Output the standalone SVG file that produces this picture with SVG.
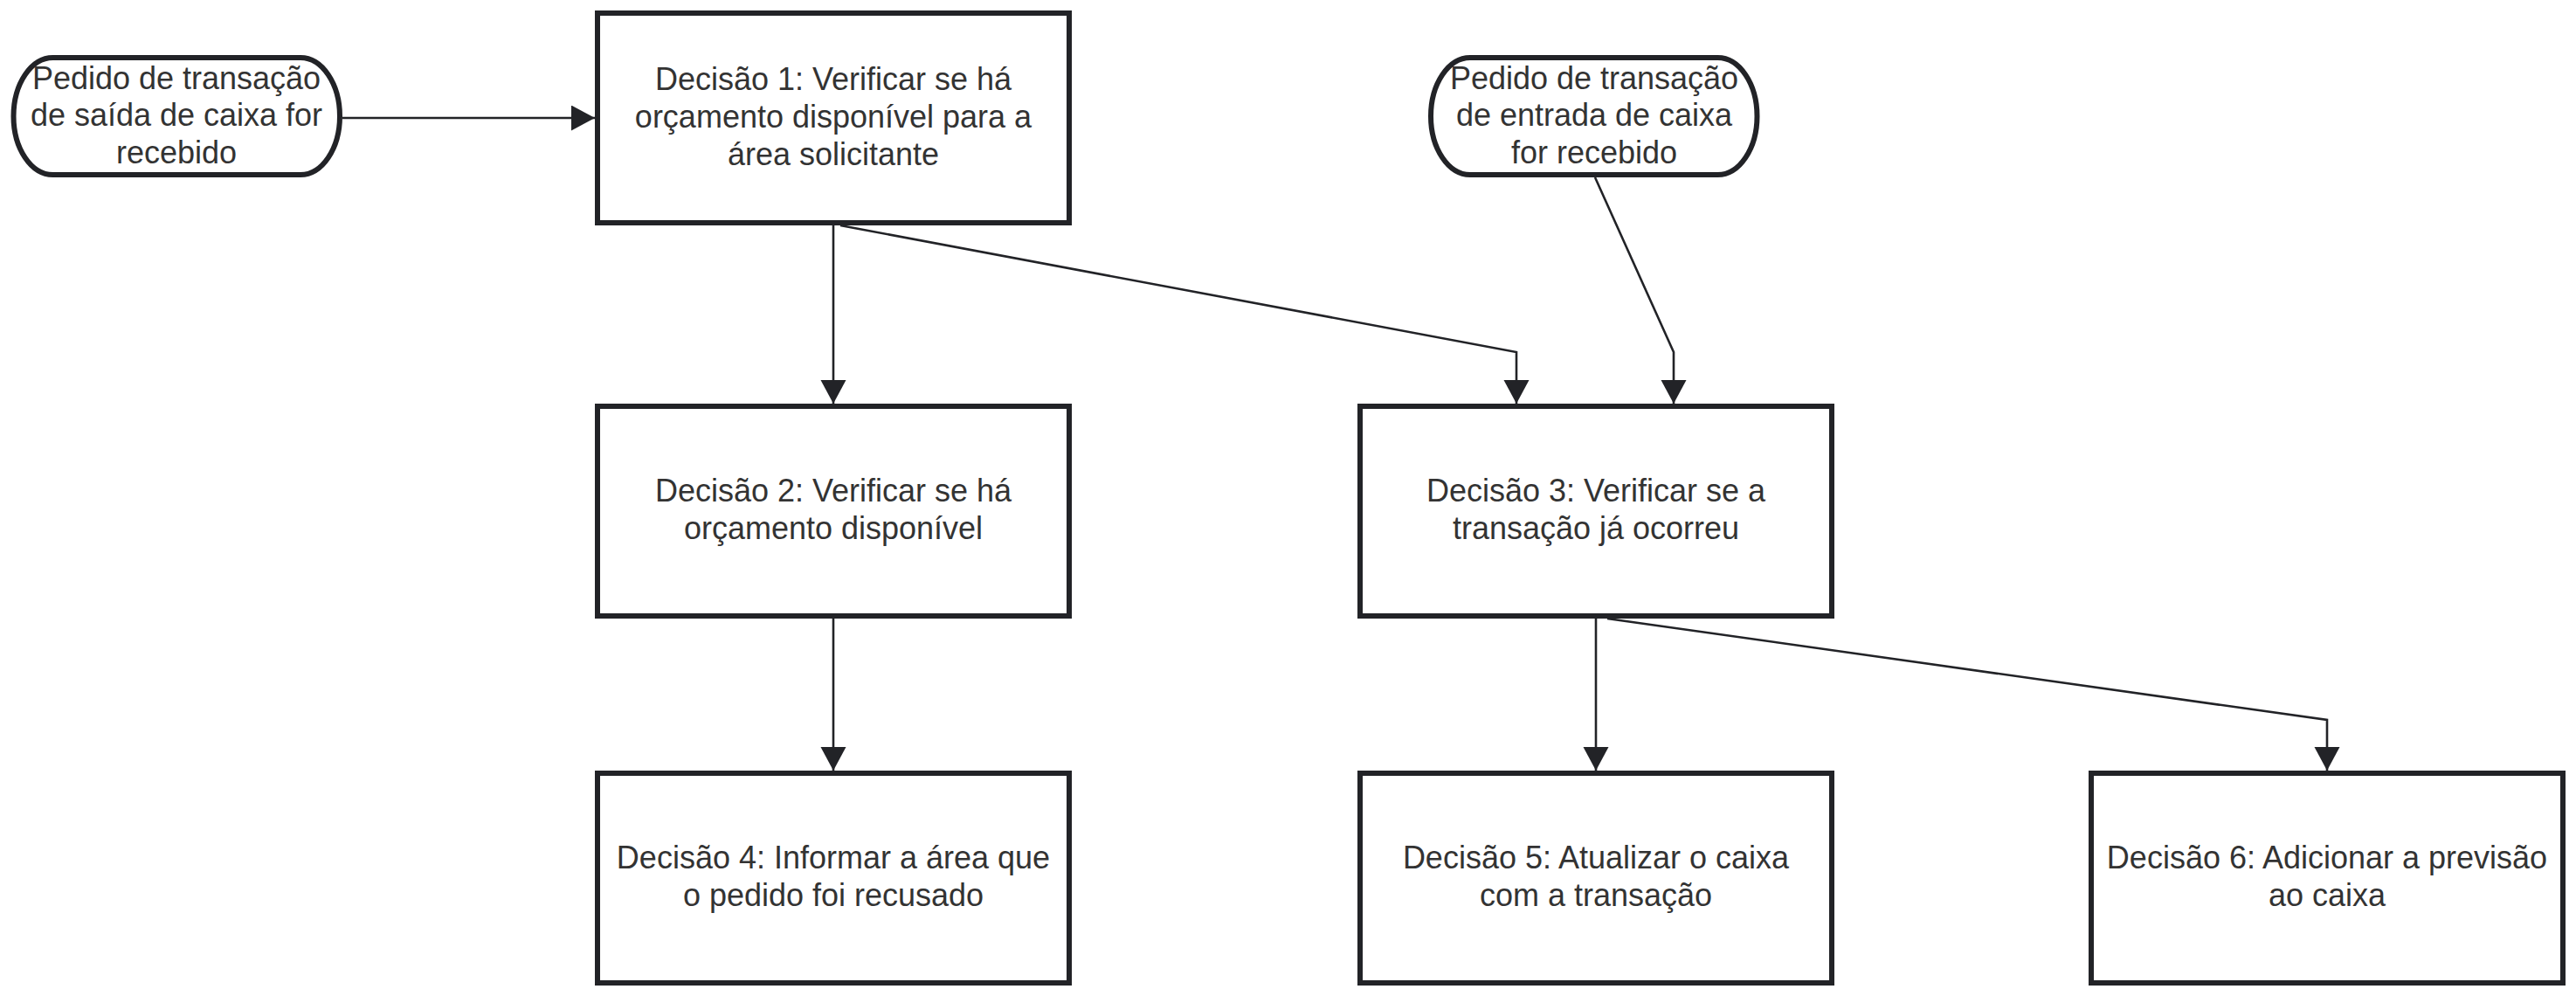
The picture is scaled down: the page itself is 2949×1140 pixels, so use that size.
<svg xmlns="http://www.w3.org/2000/svg" width="2949" height="1140" viewBox="0 0 2949 1140">
<style>
.box{fill:#ffffff;stroke:#222327;stroke-width:6}
.lbl{font-family:"Liberation Sans",Arial,sans-serif;font-size:36px;fill:#333333;text-anchor:middle}
.edge{fill:none;stroke:#222327;stroke-width:2.6}
</style>
<defs>
<marker id="arr" markerUnits="userSpaceOnUse" markerWidth="28" markerHeight="30" refX="27" refY="14.5" orient="auto" viewBox="0 0 28 30">
<path d="M0,0 L27,14.5 L0,29 z" fill="#222327"/>
</marker>
</defs>
<rect width="2949" height="1140" fill="#ffffff"/>
<g id="connectors">
<path class="edge" d="M392,135 L681,135" marker-end="url(#arr)"/>
<path class="edge" d="M954,258 L954,462" marker-end="url(#arr)"/>
<path class="edge" d="M962,258 L1736,403 L1736,462" marker-end="url(#arr)"/>
<path class="edge" d="M1826,203 L1916,403 L1916,462" marker-end="url(#arr)"/>
<path class="edge" d="M954,708 L954,882" marker-end="url(#arr)"/>
<path class="edge" d="M1827,708 L1827,882" marker-end="url(#arr)"/>
<path class="edge" d="M1840,708 L2664,824 L2664,882" marker-end="url(#arr)"/>
</g>
<g id="start1">
<rect class="box" x="15.5" y="66" width="373.5" height="134" rx="45" ry="67"/>
<text class="lbl" x="202" y="102">Pedido de transação</text>
<text class="lbl" x="202" y="144">de saída de caixa for</text>
<text class="lbl" x="202" y="187">recebido</text>
</g>
<g id="start2">
<rect class="box" x="1638" y="66" width="373.5" height="134" rx="45" ry="67"/>
<text class="lbl" x="1825" y="102">Pedido de transação</text>
<text class="lbl" x="1825" y="144">de entrada de caixa</text>
<text class="lbl" x="1825" y="187">for recebido</text>
</g>
<g id="d1">
<rect class="box" x="684" y="15" width="540" height="240"/>
<text class="lbl" x="954" y="103">Decisão 1: Verificar se há</text>
<text class="lbl" x="954" y="146">orçamento disponível para a</text>
<text class="lbl" x="954" y="189">área solicitante</text>
</g>
<g id="d2">
<rect class="box" x="684" y="465" width="540" height="240"/>
<text class="lbl" x="954" y="574">Decisão 2: Verificar se há</text>
<text class="lbl" x="954" y="617">orçamento disponível</text>
</g>
<g id="d3">
<rect class="box" x="1557" y="465" width="540" height="240"/>
<text class="lbl" x="1827" y="574">Decisão 3: Verificar se a</text>
<text class="lbl" x="1827" y="617">transação já ocorreu</text>
</g>
<g id="d4">
<rect class="box" x="684" y="885" width="540" height="240"/>
<text class="lbl" x="954" y="994">Decisão 4: Informar a área que</text>
<text class="lbl" x="954" y="1037">o pedido foi recusado</text>
</g>
<g id="d5">
<rect class="box" x="1557" y="885" width="540" height="240"/>
<text class="lbl" x="1827" y="994">Decisão 5: Atualizar o caixa</text>
<text class="lbl" x="1827" y="1037">com a transação</text>
</g>
<g id="d6">
<rect class="box" x="2394" y="885" width="540" height="240"/>
<text class="lbl" x="2664" y="994">Decisão 6: Adicionar a previsão</text>
<text class="lbl" x="2664" y="1037">ao caixa</text>
</g>
</svg>
